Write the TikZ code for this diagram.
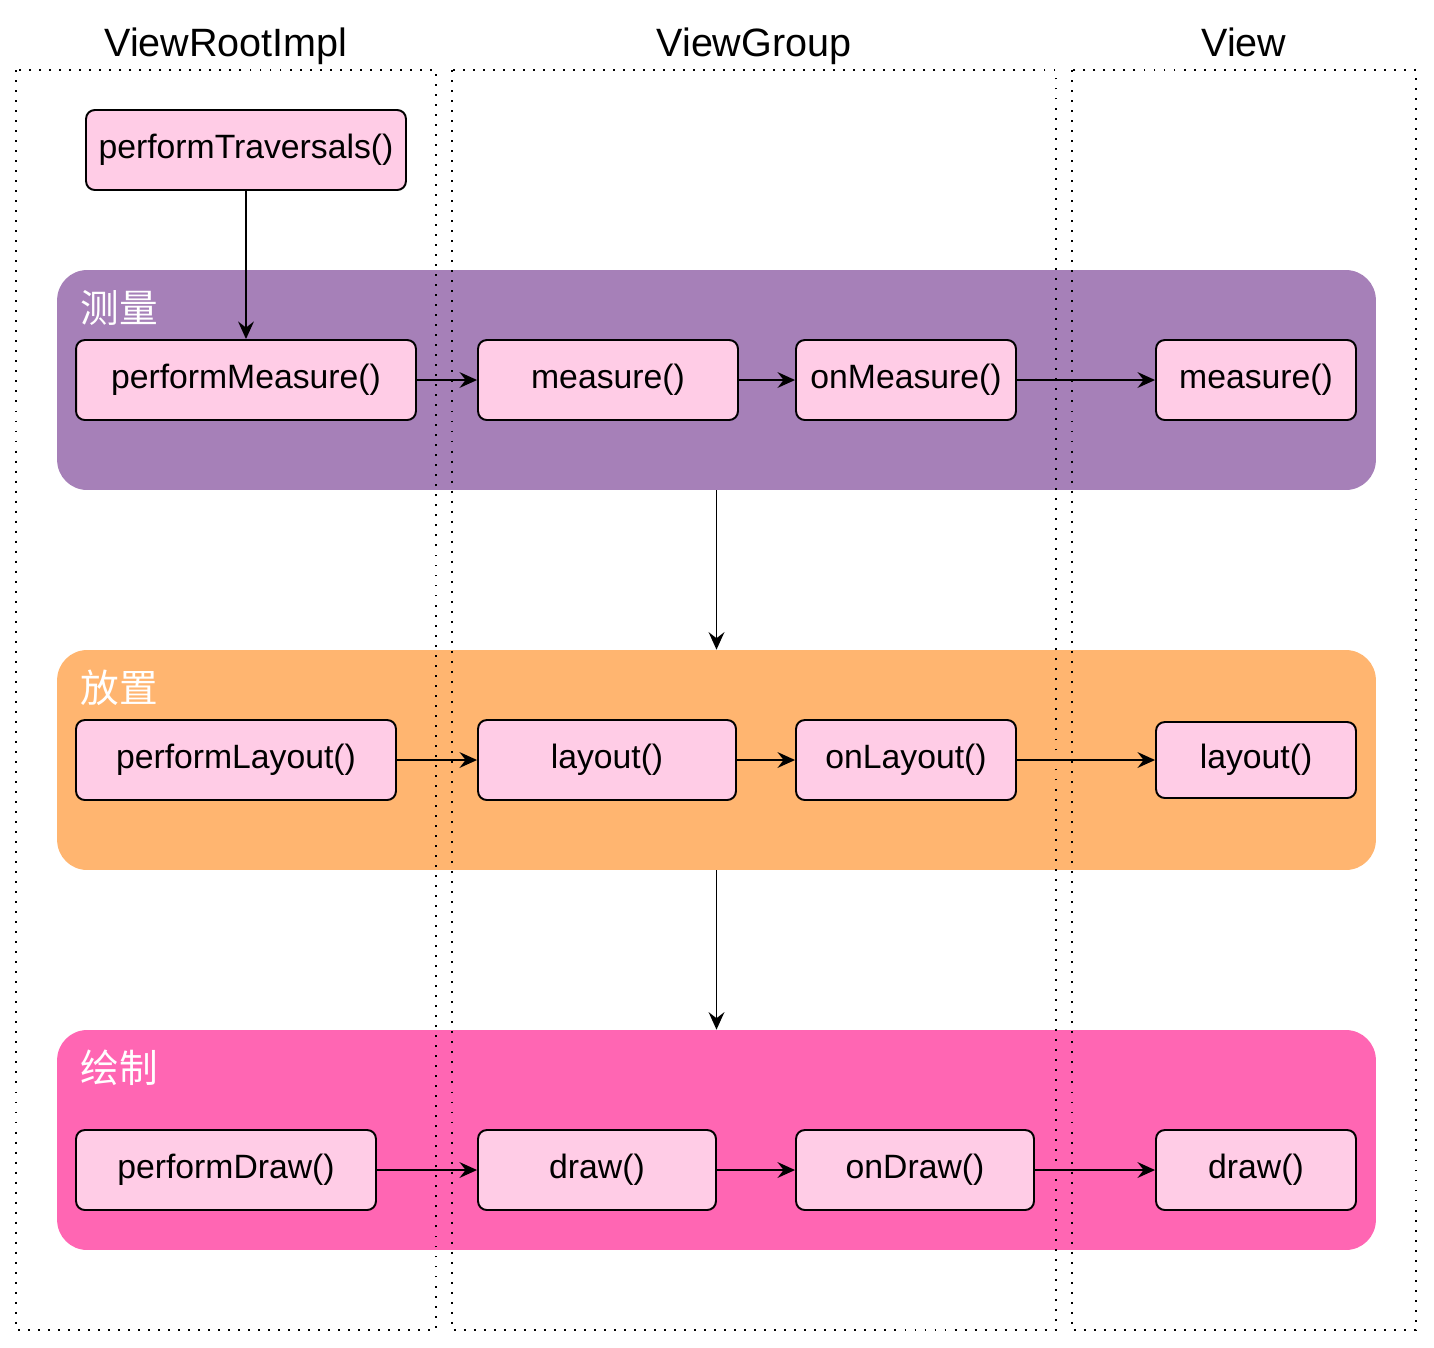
\documentclass[tikz,border=0pt]{standalone}
\usepackage{fontspec}
\setmainfont{Liberation Sans}
\newfontfamily\cjkfont{Noto Sans CJK SC}
\usetikzlibrary{arrows.meta}
\definecolor{boxpink}{HTML}{FFCCE6}
\definecolor{measurepurple}{HTML}{A680B8}
\definecolor{layoutorange}{HTML}{FFB570}
\definecolor{drawpink}{HTML}{FF66B3}

\begin{document}
\begin{tikzpicture}[x=0.02cm,y=-0.02cm,
    func/.style={draw, line width=1.1pt, fill=boxpink, rounded corners=5pt, minimum height=1.6cm, inner sep=0pt, font=\fontsize{19.2}{23}\selectfont},
    band/.style={rounded corners=0.6cm, minimum height=4.4cm, minimum width=26.38cm, inner sep=0pt},
    lane/.style={dash pattern=on 1.1pt off 4.6pt, line width=1.1pt},
    lbl/.style={anchor=west, text=white, inner sep=0pt, font=\cjkfont\fontsize{22}{26}\selectfont},
    hdr/.style={anchor=base, font=\fontsize{22.5}{27}\selectfont},
    flow/.style={-{Stealth[length=10pt,width=9pt,inset=3.5pt]}, line width=1pt}]
  \useasboundingbox (0,0) rectangle (1434,1347);

  % the three phases
  \node[band, fill=measurepurple] (measureband) at (716.5,380) {};
  \node[band, fill=layoutorange] (layoutband) at (716.5,760) {};
  \node[band, fill=drawpink] (drawband) at (716.5,1140) {};
  \node[lbl] (measurelbl) at (80,308) {测量};
  \node[lbl] (layoutlbl) at (80,688) {放置};
  \node[lbl] (drawlbl) at (80,1068) {绘制};

  % swimlanes
  \draw[lane] (16,70) rectangle (436,1330);
  \draw[lane] (452,70) rectangle (1056,1330);
  \draw[lane] (1072,70) rectangle (1416,1330);
  \node[hdr] (roothdr) at (226,56) {ViewRootImpl};
  \node[hdr] (grouphdr) at (754,56) {ViewGroup};
  \node[hdr] (viewhdr) at (1244,56) {View};

  \node[func, minimum width=6.4cm] (traversals) at (246,150) {performTraversals()};

  \node[func, minimum width=6.8cm] (performmeasure) at (246,380) {performMeasure()};
  \node[func, minimum width=5.2cm] (gmeasure) at (608,380) {measure()};
  \node[func, minimum width=4.4cm] (gonmeasure) at (906,380) {onMeasure()};
  \node[func, minimum width=4cm] (vmeasure) at (1256,380) {measure()};

  \node[func, minimum width=6.4cm] (performlayout) at (236,760) {performLayout()};
  \node[func, minimum width=5.16cm] (glayout) at (607,760) {layout()};
  \node[func, minimum width=4.4cm] (gonlayout) at (906,760) {onLayout()};
  \node[func, minimum width=4cm, minimum height=1.52cm] (vlayout) at (1256,760) {layout()};

  \node[func, minimum width=6cm] (performdraw) at (226,1170) {performDraw()};
  \node[func, minimum width=4.76cm] (gdraw) at (597,1170) {draw()};
  \node[func, minimum width=4.76cm] (gondraw) at (915,1170) {onDraw()};
  \node[func, minimum width=4cm] (vdraw) at (1256,1170) {draw()};

  \draw[flow] (traversals) -- (performmeasure);
  \draw[flow] (performmeasure) -- (gmeasure);
  \draw[flow] (gmeasure) -- (gonmeasure);
  \draw[flow] (gonmeasure) -- (vmeasure);
  \draw[flow] (performlayout) -- (glayout);
  \draw[flow] (glayout) -- (gonlayout);
  \draw[flow] (gonlayout) -- (vlayout);
  \draw[flow] (performdraw) -- (gdraw);
  \draw[flow] (gdraw) -- (gondraw);
  \draw[flow] (gondraw) -- (vdraw);
  \draw[flow] (measureband) -- (layoutband);
  \draw[flow] (layoutband) -- (drawband);
\end{tikzpicture}
\end{document}
